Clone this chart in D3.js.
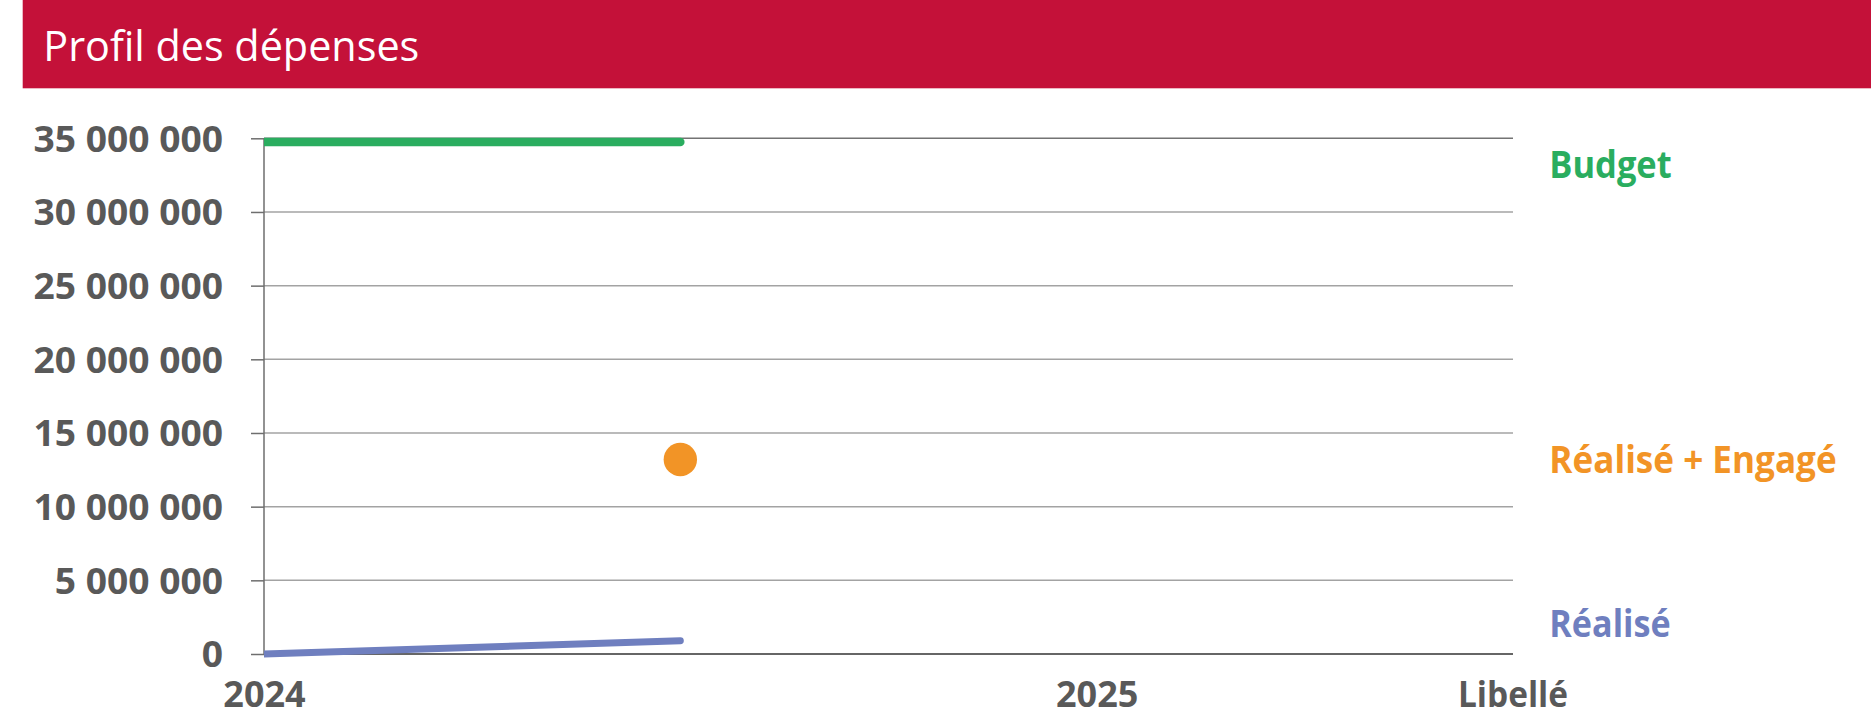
<!DOCTYPE html>
<html>
<head>
<meta charset="utf-8">
<script src="https://cdn.jsdelivr.net/npm/d3@7/dist/d3.min.js"></script>
<style>
  html, body { margin: 0; padding: 0; background: #ffffff; }
  svg { display: block; }
  text { font-family: "Open Sans", "Noto Sans", sans-serif; }
</style>
</head>
<body>
<svg id="chart" width="1871" height="717"></svg>
<script>
// ---------- data ----------
const chartTitle = "Profil des dépenses";
const xAxisTitle = "Libellé";
const xTickValues = [2024, 2025];
const xTickLabels = ["2024", "2025"];
const xDomain = [2024, 2025.5];
const yTickValues = [0, 5000000, 10000000, 15000000, 20000000, 25000000, 30000000, 35000000];
const seriesNames = ["Budget", "Réalisé + Engagé", "Réalisé"];
const seriesColors = ["#2aad5f", "#f29426", "#6f7fbf"];
const budgetX = [2024, 2024.5];
const budgetY = [34750000, 34750000];
const realiseX = [2024, 2024.5];
const realiseY = [0, 900000];
const engageX = [2024.5];
const engageY = [13200000];

// ---------- layout ----------
const W = 1871, H = 717;
const plot = { left: 264, right: 1513, top: 138.3, bottom: 654 };
const grey = "#595959";
const legendBaselines = [178.3, 473.3, 636.7];
const legendWidths = [122.4, 287.4, 121.4];
const legendX = 1549.3;

const svg = d3.select("#chart");

function fitWidth(node, target) {
  const w = node.getComputedTextLength();
  if (Math.abs(w - target) > 1) {
    d3.select(node).attr("textLength", target).attr("lengthAdjust", "spacingAndGlyphs");
  }
}
function scaleWidth(node, k) {
  const w = node.getComputedTextLength();
  d3.select(node).attr("textLength", w * k).attr("lengthAdjust", "spacingAndGlyphs");
}

// title bar
svg.append("rect").attr("x", 22.7).attr("y", 0).attr("width", W - 22.7).attr("height", 88.3).attr("fill", "#c41139");
svg.append("text").attr("x", 43.3).attr("y", 61).attr("fill", "#ffffff")
  .attr("font-size", 42).attr("font-weight", 400).text(chartTitle)
  .each(function () { fitWidth(this, 376); });

const x = d3.scaleLinear().domain(xDomain).range([plot.left, plot.right]);
const y = d3.scaleLinear().domain([0, 35000000]).range([plot.bottom, plot.top]);
const fr = d3.formatLocale({ decimal: ",", thousands: " ", grouping: [3], currency: ["", " €"] });
const fmt = fr.format(",");

// gridlines
svg.append("g").selectAll("line").data(yTickValues.filter(d => d !== 0)).join("line")
  .attr("x1", plot.left).attr("x2", plot.right)
  .attr("y1", d => y(d)).attr("y2", d => y(d))
  .attr("stroke", d => d === 35000000 ? "#737373" : "#a3a3a3").attr("stroke-width", 1.5);

// y axis
const yAxis = svg.append("g").attr("transform", `translate(${plot.left},0)`)
  .call(d3.axisLeft(y).tickValues(yTickValues).tickFormat(fmt).tickSize(13).tickPadding(28));
yAxis.select(".domain").attr("stroke", "#6e6e6e").attr("stroke-width", 1.5)
  .attr("d", `M0,${plot.top}V${plot.bottom}`);
yAxis.selectAll(".tick line").attr("stroke", "#6e6e6e").attr("stroke-width", 1.5);
const yLabels = yAxis.selectAll(".tick text").attr("fill", grey).attr("font-size", 36).attr("font-weight", 700)
  .attr("font-family", "'Open Sans', sans-serif").attr("dy", 12.8);
let yK = 1;
yLabels.filter(d => d === 35000000).each(function () { yK = 189.4 / this.getComputedTextLength(); });
yLabels.each(function () { scaleWidth(this, yK); });

// x axis (zero line + labels)
const xAxis = svg.append("g").attr("transform", `translate(0,${plot.bottom})`)
  .call(d3.axisBottom(x).tickValues(xTickValues).tickFormat((d, i) => xTickLabels[i]).tickSize(0).tickPadding(0));
xAxis.select(".domain").attr("stroke", "#666666").attr("stroke-width", 2)
  .attr("d", `M${plot.left},0H${plot.right}`);
xAxis.selectAll(".tick text").attr("fill", grey).attr("font-size", 36).attr("font-weight", 700)
  .attr("font-family", "'Open Sans', sans-serif").attr("dy", 0).attr("y", 53)
  .each(function () { fitWidth(this, 82); });
svg.append("text").attr("x", x(xDomain[1])).attr("y", plot.bottom + 53)
  .attr("text-anchor", "middle").attr("fill", grey).attr("font-size", 36).attr("font-weight", 700)
  .text(xAxisTitle).each(function () { fitWidth(this, 110); });

// clip
svg.append("clipPath").attr("id", "clip").append("rect")
  .attr("x", plot.left).attr("y", 0).attr("width", plot.right - plot.left + 20).attr("height", H);

const line = d3.line().x(d => x(d[0])).y(d => y(d[1]));
const g = svg.append("g").attr("clip-path", "url(#clip)");

g.append("path").datum(d3.zip(budgetX, budgetY)).attr("d", line)
  .attr("fill", "none").attr("stroke", seriesColors[0]).attr("stroke-width", 8.5).attr("stroke-linecap", "round");
g.append("path").datum(d3.zip(realiseX, realiseY)).attr("d", line)
  .attr("fill", "none").attr("stroke", seriesColors[2]).attr("stroke-width", 7).attr("stroke-linecap", "round");
g.selectAll("circle").data(d3.zip(engageX, engageY)).join("circle")
  .attr("cx", d => x(d[0])).attr("cy", d => y(d[1])).attr("r", 16.7).attr("fill", seriesColors[1]);

// series labels
svg.append("g").selectAll("text").data(seriesNames).join("text")
  .attr("x", legendX).attr("y", (d, i) => legendBaselines[i])
  .attr("fill", (d, i) => seriesColors[i]).attr("font-size", 37).attr("font-weight", 700)
  .text(d => d)
  .each(function (d, i) { fitWidth(this, legendWidths[i]); });
</script>
</body>
</html>
